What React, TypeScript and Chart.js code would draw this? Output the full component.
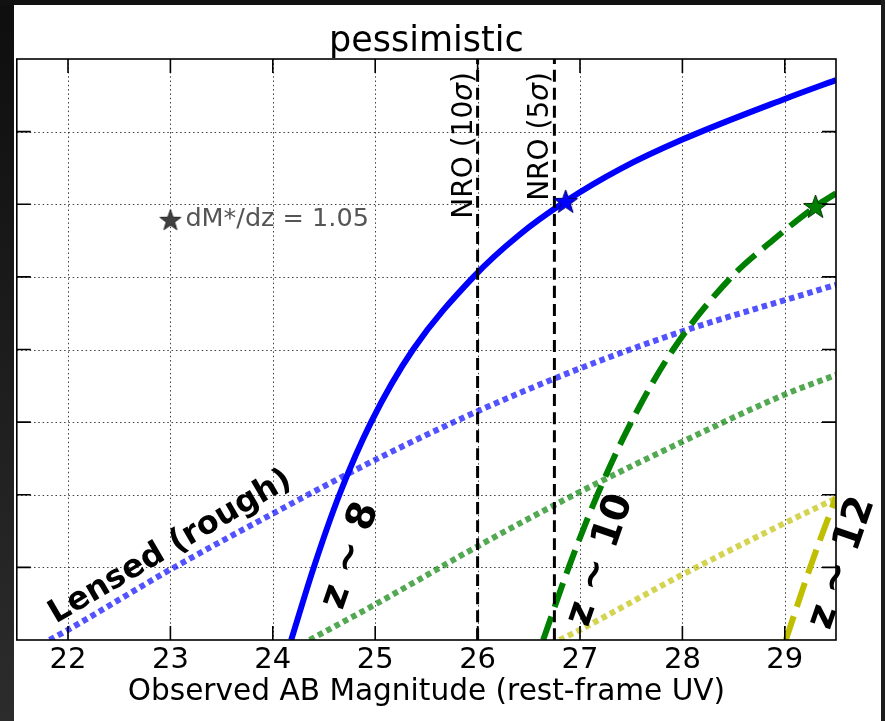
import React, { useEffect, useRef } from "react";
import { Chart, registerables } from "chart.js";

Chart.register(...registerables);

// Axis extents and tick positions
const xMin = 21.5;
const xMax = 29.5;
const yMin = 0;
const yMax = 8;
const xTicks = [22, 23, 24, 25, 26, 27, 28, 29];
const yTicks = [1, 2, 3, 4, 5, 6, 7];

const titleText = "pessimistic";
const xAxisTitle = "Observed AB Magnitude (rest-frame UV)";

// z ~ 8, unlensed (solid blue)
const z8Mag = [24.18, 24.4, 24.65, 24.96, 25.37, 25.96, 26.4, 26.86, 27.4, 28.0, 29.0, 29.5];
const z8Val = [0, 1, 2, 3, 4, 5, 5.57, 6.04, 6.49, 6.89, 7.45, 7.71];

// z ~ 10, unlensed (dashed green)
const z10Mag = [26.64, 26.89, 27.17, 27.5, 27.91, 28.48, 28.88, 29.3, 29.5];
const z10Val = [0, 1, 2, 3, 4, 5, 5.5, 5.97, 6.15];

// z ~ 12, unlensed (dashed yellow)
const z12Mag = [29.01, 29.25, 29.5];
const z12Val = [0, 1.01, 1.97];

// Lensed (rough) versions, dotted
const lensedZ8Mag = [21.82, 22, 23, 24, 25, 26, 27, 28, 29, 29.5];
const lensedZ8Val = [0, 0.14, 0.97, 1.74, 2.48, 3.15, 3.74, 4.25, 4.68, 4.89];
const lensedZ10Mag = [24.36, 25, 26, 27, 28, 29, 29.5];
const lensedZ10Val = [0, 0.49, 1.29, 2.04, 2.73, 3.38, 3.65];
const lensedZ12Mag = [26.8, 27, 28, 29, 29.5];
const lensedZ12Val = [0, 0.14, 0.9, 1.61, 1.95];

// NRO depth limits
const nroMag = [26.0, 26.75];
const nroSigma = ["10", "5"];
const nroLabelTop = 7.82;

// Star markers on the z ~ 8 and z ~ 10 curves
const starMag = [26.86, 29.3];
const starVal = [6.04, 5.97];

// Key star and its note
const keyStarMag = 23.0;
const keyStarVal = 5.785;
const keyText = "dM*/dz = 1.05";

// Curve labels
const zLabels = ["z \u223C 8", "z \u223C 10", "z \u223C 12"];
const zLabelMag = [24.76, 27.2, 29.56];
const zLabelVal = [1.16, 1.1, 1.06];
const lensedLabel = "Lensed (rough)";
const lensedLabelMag = 23.0;
const lensedLabelVal = 1.28;

const FONT = "'DejaVu Sans', 'Bitstream Vera Sans', sans-serif";

const pts = (xs: number[], ys: number[]) => xs.map((x, i) => ({ x, y: ys[i] }));

function makeStar(radius: number, fill: string, stroke: string): HTMLCanvasElement {
  const c = document.createElement("canvas");
  const s = Math.ceil(radius * 2 + 4);
  c.width = s;
  c.height = s;
  const g = c.getContext("2d")!;
  const cx = s / 2;
  const cy = s / 2 + radius * 0.08;
  const inner = radius * 0.4;
  g.beginPath();
  for (let i = 0; i < 10; i++) {
    const r = i % 2 === 0 ? radius : inner;
    const a = -Math.PI / 2 + (i * Math.PI) / 5;
    const px = cx + r * Math.cos(a);
    const py = cy + r * Math.sin(a);
    if (i === 0) g.moveTo(px, py);
    else g.lineTo(px, py);
  }
  g.closePath();
  g.fillStyle = fill;
  g.fill();
  g.lineWidth = 1;
  g.strokeStyle = stroke;
  g.stroke();
  return c;
}

const framePlugin = {
  id: "frame",
  beforeDraw(chart: any) {
    const { ctx, width, height } = chart;
    ctx.save();
    ctx.fillStyle = "#ffffff";
    ctx.fillRect(0, 0, width, height);
    const grad = ctx.createLinearGradient(0, 0, 0, height);
    grad.addColorStop(0, "#0e0e0e");
    grad.addColorStop(1, "#2c2c2c");
    ctx.fillStyle = grad;
    ctx.fillRect(0, 0, 14, height);
    ctx.fillStyle = "#111111";
    ctx.fillRect(0, 0, width, 5);
    ctx.fillStyle = "#1c1c1c";
    ctx.fillRect(881, 0, width - 881, height);
    ctx.restore();
  },
  beforeDatasetsDraw(chart: any) {
    const { ctx, chartArea: a, scales } = chart;
    ctx.save();
    ctx.strokeStyle = "rgba(0,0,0,0.75)";
    ctx.lineWidth = 1;
    ctx.setLineDash([1.5, 2.8]);
    for (const t of xTicks) {
      const x = Math.round(scales.x.getPixelForValue(t)) + 0.5;
      ctx.beginPath();
      ctx.moveTo(x, a.top);
      ctx.lineTo(x, a.bottom);
      ctx.stroke();
    }
    for (const t of yTicks) {
      const y = Math.round(scales.y.getPixelForValue(t)) + 0.5;
      ctx.beginPath();
      ctx.moveTo(a.left, y);
      ctx.lineTo(a.right, y);
      ctx.stroke();
    }
    ctx.restore();
  },
  afterDatasetsDraw(chart: any) {
    const { ctx, chartArea: a, scales } = chart;
    const X = (v: number) => scales.x.getPixelForValue(v);
    const Y = (v: number) => scales.y.getPixelForValue(v);
    ctx.save();
    // frame and inward ticks
    ctx.strokeStyle = "#000";
    ctx.lineWidth = 1.6;
    ctx.setLineDash([]);
    ctx.strokeRect(a.left, a.top, a.right - a.left, a.bottom - a.top);
    const tl = 14;
    ctx.beginPath();
    for (const t of xTicks) {
      const x = X(t);
      ctx.moveTo(x, a.bottom);
      ctx.lineTo(x, a.bottom - tl);
      ctx.moveTo(x, a.top);
      ctx.lineTo(x, a.top + tl);
    }
    for (const t of yTicks) {
      const y = Y(t);
      ctx.moveTo(a.left, y);
      ctx.lineTo(a.left + tl, y);
      ctx.moveTo(a.right, y);
      ctx.lineTo(a.right - tl, y);
    }
    ctx.stroke();

    // NRO labels, reading upward, just left of each limit line
    nroMag.forEach((m, i) => {
      const parts = [
        { t: "NRO (" + nroSigma[i], f: `28px ${FONT}` },
        { t: "\u03C3", f: `italic 28px ${FONT}` },
        { t: ")", f: `28px ${FONT}` },
      ];
      let total = 0;
      const widths = parts.map((p) => {
        ctx.font = p.f;
        const w = ctx.measureText(p.t).width;
        total += w;
        return w;
      });
      ctx.save();
      ctx.translate(X(m) - 6, Y(nroLabelTop));
      ctx.rotate(-Math.PI / 2);
      ctx.fillStyle = "#000";
      ctx.textBaseline = "alphabetic";
      ctx.textAlign = "left";
      let cur = -total;
      parts.forEach((p, j) => {
        ctx.font = p.f;
        ctx.fillText(p.t, cur, 0);
        cur += widths[j];
      });
      ctx.restore();
    });

    // key note
    ctx.font = `25.5px ${FONT}`;
    ctx.fillStyle = "#555555";
    ctx.textAlign = "left";
    ctx.textBaseline = "middle";
    ctx.fillText(keyText, X(keyStarMag) + 15, Y(keyStarVal));

    // rotated curve labels
    const drawRot = (text: string, x: number, y: number, deg: number, font: string) => {
      ctx.save();
      ctx.translate(x, y);
      ctx.rotate((deg * Math.PI) / 180);
      ctx.font = font;
      ctx.fillStyle = "#000";
      ctx.textAlign = "center";
      ctx.textBaseline = "middle";
      ctx.fillText(text, 0, 0);
      ctx.restore();
    };
    drawRot(lensedLabel, X(lensedLabelMag), Y(lensedLabelVal), -30.3, `bold 32px ${FONT}`);
    zLabels.forEach((t, i) => {
      drawRot(t, X(zLabelMag[i]), Y(zLabelVal[i]), -71, `bold 39px ${FONT}`);
    });
    ctx.restore();
  },
};

export default function App() {
  const ref = useRef<HTMLCanvasElement | null>(null);

  useEffect(() => {
    document.body.style.margin = "0";
    const canvas = ref.current;
    if (!canvas) return;

    const blueStar = makeStar(12.5, "#0000ff", "#000066");
    const greenStar = makeStar(12.5, "#008000", "#003300");
    const greyStar = makeStar(11, "#404040", "#222222");

    const lineBase = {
      type: "scatter" as const,
      showLine: true,
      pointRadius: 0,
      pointHoverRadius: 0,
      borderWidth: 6,
      cubicInterpolationMode: "monotone" as const,
      borderCapStyle: "butt" as const,
      fill: false,
      clip: 0,
    };

    const chart = new Chart(canvas, {
      type: "scatter",
      data: {
        datasets: [
          { ...lineBase, label: "lensed z8", data: pts(lensedZ8Mag, lensedZ8Val), borderColor: "rgba(0,0,255,0.68)", borderDash: [5.5, 4], order: 7 },
          { ...lineBase, label: "lensed z10", data: pts(lensedZ10Mag, lensedZ10Val), borderColor: "rgba(0,128,0,0.68)", borderDash: [5.5, 4], order: 6 },
          { ...lineBase, label: "lensed z12", data: pts(lensedZ12Mag, lensedZ12Val), borderColor: "rgba(191,191,0,0.68)", borderDash: [5.5, 4], order: 5 },
          { ...lineBase, label: "z8", data: pts(z8Mag, z8Val), borderColor: "#0000ff", order: 4 },
          { ...lineBase, label: "z10", data: pts(z10Mag, z10Val), borderColor: "#008000", borderDash: [25, 10], order: 3 },
          { ...lineBase, label: "z12", data: pts(z12Mag, z12Val), borderColor: "#bfbf00", borderDash: [25, 10], order: 3 },
          ...nroMag.map((m) => ({
            ...lineBase,
            label: "NRO",
            data: [{ x: m, y: yMin }, { x: m, y: yMax }],
            borderColor: "#000",
            borderWidth: 3,
            borderDash: [12, 6],
            order: 2,
          })),
          {
            type: "scatter" as const,
            label: "stars",
            data: pts(starMag, starVal),
            pointStyle: [blueStar, greenStar] as any,
            showLine: false,
            order: 0,
            clip: false as any,
          },
          {
            type: "scatter" as const,
            label: "key",
            data: [{ x: keyStarMag, y: keyStarVal }],
            pointStyle: greyStar as any,
            showLine: false,
            order: 0,
            clip: false as any,
          },
        ] as any,
      },
      options: {
        animation: false,
        responsive: false,
        devicePixelRatio: 1,
        events: [],
        layout: { padding: { left: 16.8, right: 49, top: 0, bottom: 14 } },
        plugins: {
          legend: { display: false },
          tooltip: { enabled: false },
          title: {
            display: true,
            text: titleText,
            color: "#000",
            font: { family: FONT, size: 35, weight: "normal", lineHeight: 1 },
            padding: { top: 24, bottom: 0 },
          },
        },
        scales: {
          x: {
            type: "linear",
            min: xMin,
            max: xMax,
            afterBuildTicks: (s: any) => {
              s.ticks = xTicks.map((v) => ({ value: v }));
            },
            afterFit: (s: any) => {
              s.height = 67;
            },
            grid: { display: false, drawTicks: false },
            border: { display: false },
            ticks: {
              color: "#000",
              padding: 6,
              maxRotation: 0,
              autoSkip: false,
              font: { family: FONT, size: 29, lineHeight: 1 },
            },
            title: {
              display: true,
              text: xAxisTitle,
              color: "#000",
              font: { family: FONT, size: 29.6, lineHeight: 1 },
              padding: { top: 0, bottom: 0 },
            },
          },
          y: {
            type: "linear",
            display: false,
            min: yMin,
            max: yMax,
          },
        },
      },
      plugins: [framePlugin],
    });

    return () => chart.destroy();
  }, []);

  return (
    <div style={{ width: 885, height: 721 }}>
      <canvas ref={ref} width={885} height={721} style={{ width: 885, height: 721, display: "block" }} />
    </div>
  );
}
